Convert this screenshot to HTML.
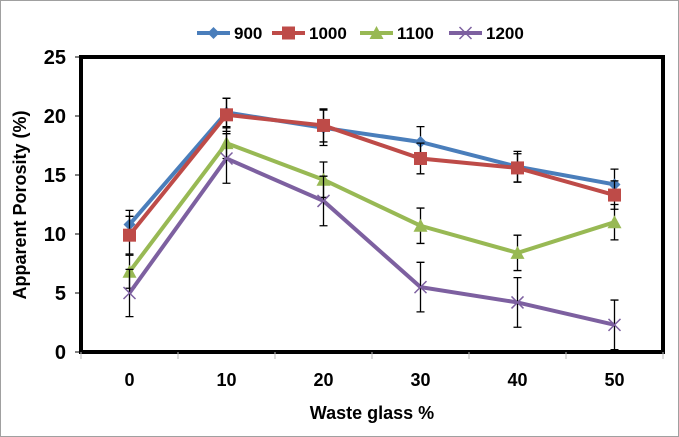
<!DOCTYPE html>
<html><head><meta charset="utf-8"><style>
body{margin:0;background:#fff;}
svg{display:block;font-family:"Liberation Sans",Arial,sans-serif;font-weight:bold;}
</style></head><body>
<svg width="679" height="437">
<rect x="0.5" y="0.5" width="678" height="436" fill="#fff" stroke="#a0a0a0"/>
<g id="grid"></g>
<g id="series"></g>
<rect x="81" y="57" width="582" height="295" fill="none" stroke="#000" stroke-width="4"/>
<g id="axes"></g>
<text x="26" y="205" transform="rotate(-90 26 205)" text-anchor="middle" font-size="18">Apparent Porosity (%)</text>
<text x="372" y="419" text-anchor="middle" font-size="18">Waste glass %</text>
<g id="legend"></g>
</svg>
<script>
const categories=[0,10,20,30,40,50];
const seriesNames=["900","1000","1100","1200"];
const s900=[10.8,20.3,19.0,17.8,15.7,14.2];
const s1000=[9.9,20.1,19.2,16.4,15.6,13.3];
const s1100=[6.8,17.7,14.6,10.7,8.4,11.0];
const s1200=[5.0,16.4,12.8,5.5,4.2,2.3];
const err900=[1.2,1.2,1.5,1.3,1.3,1.3];
const err1000=[1.6,1.4,1.4,1.3,1.2,1.2];
const err1100=[1.4,1.3,1.5,1.5,1.5,1.5];
const err1200=[2.0,2.1,2.1,2.1,2.1,2.1];
const yTicks=[0,5,10,15,20,25];
const NS="http://www.w3.org/2000/svg";
const L=81,R=663,T=57,B=352;
const xs=i=>L+(R-L)/categories.length*(i+0.5);
const ys=v=>B-(v/25)*(B-T);
function mk(tag,attrs,parent){const e=document.createElementNS(NS,tag);for(const k in attrs)e.setAttribute(k,attrs[k]);parent.appendChild(e);return e;}
const axes=document.getElementById('axes');
yTicks.forEach(t=>{
 mk('line',{x1:L-6,x2:L,y1:ys(t),y2:ys(t),stroke:'#000','stroke-width':1},axes);
 const tx=mk('text',{x:L-15,y:ys(t)+7,'text-anchor':'end','font-size':20},axes);tx.textContent=t;
 
 
});
categories.forEach((c,i)=>{
 mk('line',{x1:L+(R-L)/6*i,x2:L+(R-L)/6*i,y1:B,y2:B+7,stroke:'#bbb'},axes);
 const tx=mk('text',{x:xs(i),y:B+34,'text-anchor':'middle','font-size':18},axes);tx.textContent=c;
 
 
});
mk('line',{x1:R,x2:R,y1:B,y2:B+7,stroke:'#bbb'},axes);
const colors=["#4a7ebb","#be4b48","#98b954","#7d60a0"];
const data=[s900,s1000,s1100,s1200],errs=[err900,err1000,err1100,err1200];
const sg=document.getElementById('series');
function marker(k,x,y,g){
 const c=colors[k];
 if(k===0)return mk('path',{d:`M${x} ${y-6}L${x+6} ${y}L${x} ${y+6}L${x-6} ${y}Z`,fill:c},g);
 if(k===1)return mk('rect',{x:x-6.5,y:y-6.5,width:13,height:13,fill:c},g);
 if(k===2)return mk('path',{d:`M${x} ${y-7}L${x+7} ${y+6}L${x-7} ${y+6}Z`,fill:c},g);
 return mk('path',{d:`M${x-6} ${y-6}L${x+6} ${y+6}M${x-6} ${y+6}L${x+6} ${y-6}`,stroke:c,'stroke-width':1.5,fill:'none'},g);
}
data.forEach((arr,k)=>{
 const g=mk('g',{},sg);
 
 
 const p=mk('polyline',{points:arr.map((v,i)=>xs(i)+','+ys(v)).join(' '),fill:'none',stroke:colors[k],'stroke-width':4},g);
 
 
 arr.forEach((v,i)=>{
  const x=xs(i),e=errs[k][i];
  const eb=mk('path',{d:`M${x} ${ys(v-e)}V${ys(v+e)}M${x-4} ${ys(v-e)}H${x+4}M${x-4} ${ys(v+e)}H${x+4}`,stroke:'#000','stroke-width':1.3,fill:'none'},g);
  
  
  const m=marker(k,x,ys(v),g);
  
  
 });
});
const lg=document.getElementById('legend');
const lx=[197,272,360,449];
seriesNames.forEach((n,k)=>{
 const g=mk('g',{},lg);
 
 
 const x=lx[k],y=33;
 mk('line',{x1:x,x2:x+33,y1:y,y2:y,stroke:colors[k],'stroke-width':4},g);
 marker(k,x+16.5,y,g);
 const t=mk('text',{x:x+37,y:y+6,'font-size':17},g);t.textContent=n;
});
</script>
</body></html>
